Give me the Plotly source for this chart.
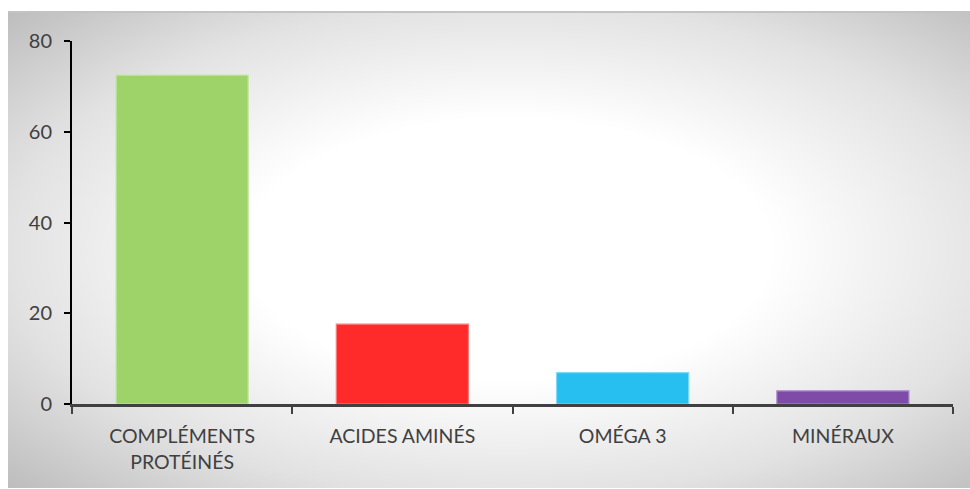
import base64
import plotly.graph_objects as go

categories = ["COMPLÉMENTS<br>PROTÉINÉS", "ACIDES AMINÉS", "OMÉGA 3", "MINÉRAUX"]
values = [72.5, 17.6, 6.9, 2.9]
bar_colors = ["#9ED36A", "#FF2A2A", "#27BEF0", "#7F4BA8"]
bar_edges = ["#C4E6A2", "#FF7A7A", "#7FD8F6", "#B08FCB"]
y_ticks = [0, 20, 40, 60, 80]

W, H = 970, 489

svg = f'''<svg xmlns="http://www.w3.org/2000/svg" width="962" height="477" preserveAspectRatio="none" viewBox="0 0 962 477">
<defs><radialGradient id="g" cx="0.52" cy="0.5" r="0.72" gradientUnits="objectBoundingBox">
<stop offset="0" stop-color="#ffffff"/><stop offset="0.38" stop-color="#ffffff"/>
<stop offset="0.72" stop-color="#e2e2e2"/><stop offset="1" stop-color="#bdbdbd"/></radialGradient></defs>
<rect x="0" y="0" width="962" height="477" fill="url(#g)"/>
<line x1="0" y1="1" x2="962" y2="1" stroke="#c3c3c3" stroke-width="2"/>
</svg>'''
src = "data:image/svg+xml;base64," + base64.b64encode(svg.encode()).decode()

fig = go.Figure()
fig.add_trace(go.Bar(
    x=categories, y=values, width=0.6,
    marker=dict(color=bar_colors, line=dict(color=bar_edges, width=1.2)),
))

font_family = "Lato, 'Open Sans', sans-serif"
fig.update_layout(
    width=W, height=H,
    margin=dict(l=0, r=0, t=0, b=0),
    paper_bgcolor="white", plot_bgcolor="rgba(0,0,0,0)",
    showlegend=False,
    font=dict(family=font_family, size=18, color="#404040"),
    images=[dict(source=src, xref="paper", yref="paper",
                 x=8 / W, y=1 - 11 / H, sizex=962 / W, sizey=477 / H,
                 xanchor="left", yanchor="top", sizing="stretch", layer="below")],
    xaxis=dict(domain=[72 / W, 953 / W], automargin=False,
               showline=True, linecolor="#404040", linewidth=3,
               ticks="outside", tickson="boundaries", ticklen=7, tickwidth=2,
               tickcolor="#404040", showgrid=False,
               tickfont=dict(family=font_family, size=19.5, color="#404040"),
               ticklabelstandoff=13),
    yaxis=dict(domain=[1 - 404 / H, 1 - 41 / H], automargin=False,
               range=[0, 80], tickvals=y_ticks, showline=True, linecolor="#000000",
               linewidth=2, ticks="outside", ticklen=6, tickwidth=2, tickcolor="#000000",
               showgrid=False, zeroline=False,
               tickfont=dict(family=font_family, size=20, color="#404040"),
               ticklabelstandoff=8),
)

fig.write_html("out.html")
